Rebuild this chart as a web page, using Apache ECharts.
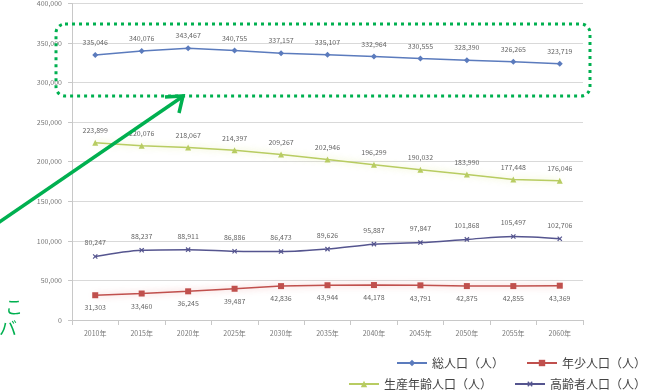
<!DOCTYPE html>
<html>
<head>
<meta charset="utf-8">
<script src="https://cdn.jsdelivr.net/npm/echarts@6/dist/echarts.min.js"></script>
<style>
  html, body { margin: 0; padding: 0; background: #fff; }
  #chart { width: 665px; height: 392px; }
</style>
</head>
<body>
<div id="chart"></div>
<script>
const years = ['2010年', '2015年', '2020年', '2025年', '2030年', '2035年', '2040年', '2045年', '2050年', '2055年', '2060年']
const total = [335046, 340076, 343467, 340755, 337157, 335107, 332964, 330555, 328390, 326265, 323719]
const working = [223899, 220076, 218067, 214397, 209267, 202946, 196299, 190032, 183990, 177448, 176046]
const elderly = [80247, 88237, 88911, 86886, 86473, 89626, 95887, 97847, 101868, 105497, 102706]
const youth = [31303, 33460, 36245, 39487, 42836, 43944, 44178, 43791, 42875, 42855, 43369]
const yTicks = { min: 0, max: 400000, interval: 50000 }

const FONT = '"Noto Sans CJK JP", "Noto Sans", sans-serif'
const fmt = v => v.toLocaleString('en-US')

// series colours, roughly the old Excel palette
const COLORS = { total: '#5b7bbd', youth: '#c0504d', working: '#b8cc62', elderly: '#55558f' }
const crossPath = 'path://M4,0L6,0L6,4L10,4L10,6L6,6L6,10L4,10L4,6L0,6L0,4L4,4Z'

function lineSeries(name, data, color, symbol, labelPos, extra) {
  return Object.assign({
    name, type: 'line', data,
    symbol, symbolSize: 6,
    lineStyle: { color, width: 1.5 },
    itemStyle: { color },
    label: {
      show: true, position: labelPos, distance: 6,
      fontSize: 7, color: '#666', fontFamily: FONT,
      formatter: p => fmt(p.value)
    }
  }, extra || {})
}

const chart = echarts.init(document.getElementById('chart'), null, { renderer: 'canvas' })
chart.setOption({
  animation: false,
  textStyle: { fontFamily: FONT },
  grid: { left: 72, right: 82, top: 2, bottom: 72 },
  xAxis: {
    type: 'category', data: years, boundaryGap: true,
    axisLine: { lineStyle: { color: '#c8c8c8' } },
    axisTick: { show: true, lineStyle: { color: '#c8c8c8' } },
    axisLabel: { fontSize: 7, color: '#777', margin: 10 }
  },
  yAxis: {
    type: 'value', min: yTicks.min, max: yTicks.max, interval: yTicks.interval,
    axisLine: { show: true, lineStyle: { color: '#c8c8c8' } },
    axisTick: { show: true, length: 4, lineStyle: { color: '#c8c8c8' } },
    axisLabel: { fontSize: 7, color: '#777', margin: 10, formatter: v => fmt(v) },
    splitLine: { lineStyle: { color: '#d9d9d9' } }
  },
  legend: [
    {
      data: ['総人口（人）', '年少人口（人）'],
      right: 14, top: 352, itemWidth: 30, itemHeight: 8, itemGap: 22,
      textStyle: { fontSize: 12, color: '#444' }
    },
    {
      data: ['生産年齢人口（人）', '高齢者人口（人）'],
      right: 14, top: 373, itemWidth: 30, itemHeight: 8, itemGap: 22,
      textStyle: { fontSize: 12, color: '#444' }
    }
  ],
  series: [
    lineSeries('総人口（人）', total, COLORS.total, 'diamond', 'top'),
    lineSeries('年少人口（人）', youth, COLORS.youth, 'rect', 'bottom', {
      lineStyle: { color: COLORS.youth, width: 1.5, shadowColor: 'rgba(230,120,120,0.6)', shadowBlur: 6 }
    }),
    lineSeries('生産年齢人口（人）', working, COLORS.working, 'triangle', 'top', {
      lineStyle: { color: COLORS.working, width: 1.5, shadowColor: 'rgba(225,235,150,0.8)', shadowBlur: 6 }
    }),
    lineSeries('高齢者人口（人）', elderly, COLORS.elderly, crossPath, 'top', {
      symbolRotate: 45, symbolSize: 6, smooth: 0.3
    })
  ],
  graphic: [
    // dotted highlight around the total population line
    {
      type: 'rect', z: 100,
      shape: { x: 56, y: 24, width: 534, height: 72, r: 9 },
      style: { fill: 'none', stroke: '#00b050', lineWidth: 3, lineDash: [3, 4] }
    },
    // arrow pointing at the box
    {
      type: 'line', z: 100,
      shape: { x1: -2, y1: 223, x2: 182, y2: 97 },
      style: { stroke: '#00b050', lineWidth: 3.5 }
    },
    {
      type: 'polyline', z: 100,
      shape: { points: [[165, 97], [183, 96], [179, 113]] },
      style: { fill: 'none', stroke: '#00b050', lineWidth: 3.5 }
    },
    // cut-off callout text at the left edge
    {
      type: 'text', z: 100, x: 5, y: 298,
      style: { text: 'こ', fontSize: 18, fill: '#00b050', fontFamily: FONT }
    },
    {
      type: 'text', z: 100, x: -1, y: 319,
      style: { text: 'バ', fontSize: 18, fill: '#00b050', fontFamily: FONT }
    }
  ]
})
</script>
</body>
</html>
